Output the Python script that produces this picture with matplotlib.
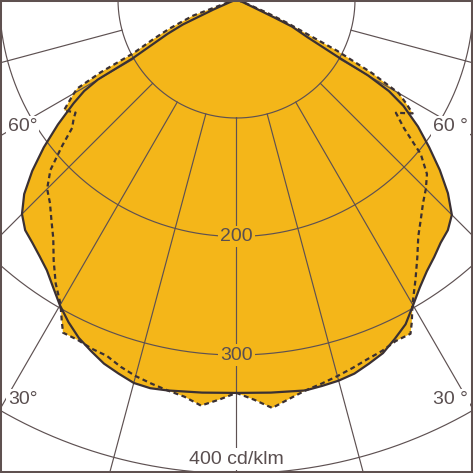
import numpy as np
import matplotlib
matplotlib.use("Agg")
import matplotlib.pyplot as plt
from matplotlib.patches import Rectangle

# ---- data (angle in degrees from nadir, intensity in cd/klm) ----
solid_deg = [-90, -68, -66.5, -65.5, -65, -63.5, -60.5, -60, -59, -57.5, -55, -52.5, -50,
             -47.5, -45, -42.5, -40, -37.5, -35, -32.5, -30, -27.5, -25, -22.5, -20, -17.5,
             -15, -12.5, -10, -5, 0, 5, 10, 12.5, 15, 17.5, 20, 22.5, 25, 27.5, 30, 32.5,
             35, 37.5, 40, 42.5, 45, 47.5, 50, 52.5, 55, 57.5, 59, 60, 60.5, 62, 64, 64.5,
             65, 67, 90]
solid_val = [0, 6, 21, 35, 50, 65, 100, 135, 150, 163, 184, 205, 225,
             243, 256, 264, 268, 273, 279, 288, 298, 307, 315, 321, 327, 331,
             335, 336, 335, 333, 332, 333, 335, 334, 333, 331, 327, 323, 316, 309, 298, 288,
             280, 274, 268, 264, 257, 242, 224, 205, 187, 167, 150, 128, 98, 68, 52, 35,
             20, 6, 0]

dashed_deg = [-90, -72, -69.6, -67.7, -66.5, -64.5, -62.5, -61.8, -60.8, -59.7, -57.3, -54.9,
              -53.9, -52, -50, -47.5, -45, -42.5, -40, -37.5, -35, -32.5, -30, -28.5, -27.5,
              -25, -22.5, -20, -17.5, -15, -12.5, -10, -7.5, -5, -2.5, 0, 2.5, 5, 7.5, 10,
              12.5, 15, 17.5, 20, 22.5, 25, 27.5, 28.5, 30, 32.5, 35, 37.5, 40, 42.5, 45,
              47.5, 50, 51, 52.5, 54.6, 57.1, 58.5, 60, 61.5, 63, 65.3, 66.5, 68, 90]
dashed_val = [0, 6, 39, 51, 62, 78, 98, 130, 154, 160, 173, 166,
              170, 176, 192, 213, 226, 233, 243, 254, 269, 284, 297, 309, 317,
              317, 319, 320, 325, 329, 332, 335, 338, 344, 338, 332, 338, 346, 340, 335,
              332, 329, 326, 323, 321, 318, 318, 310, 297, 281, 266, 252, 242, 233, 226,
              218, 203, 192, 178, 165, 177, 168, 158, 130, 95, 46, 28, 9, 0]

ring_values = [100, 200, 300, 400]
spoke_deg = [-90, -75, -60, -45, -30, -15, 0, 15, 30, 45, 60, 75, 90]

# ---- styling ----
ORANGE = "#F4B619"
CURVE = "#3a3033"
GRID = "#5e5152"
TEXT = "#5a4f50"
FONT = "Liberation Sans"

W = 473
DPI = 100
SCALE = 1.185          # pixels per cd/klm
RMAX = 470
rad_px = RMAX * SCALE
cx, cy = 236.5, W + 0.5   # pole position in pixels (from bottom-left)

fig = plt.figure(figsize=(W / DPI, W / DPI), dpi=DPI, facecolor="white")
ax = fig.add_axes([(cx - rad_px) / W, (cy - rad_px) / W, 2 * rad_px / W, 2 * rad_px / W],
                  projection="polar")
ax.set_theta_zero_location("S")
ax.set_theta_direction(1)
ax.set_axis_off()

# fill (union of both planes)
ts = np.deg2rad(solid_deg)
td = np.deg2rad(dashed_deg)
ax.fill(ts, solid_val, color=ORANGE, lw=0, zorder=1)
ax.fill(td, dashed_val, color=ORANGE, lw=0, zorder=1)

# grid rings
ring_t = np.linspace(0, 2 * np.pi, 1441)
for rv in ring_values:
    ax.plot(ring_t, np.full_like(ring_t, rv), color=GRID, lw=0.85, zorder=2)
# spokes (start at the first ring)
for sd in spoke_deg:
    a = np.deg2rad(sd)
    ax.plot([a, a], [ring_values[0], RMAX], color=GRID, lw=0.85, zorder=2)

# curves
ax.plot(ts, solid_val, color=CURVE, lw=1.6, zorder=3, solid_joinstyle="round")
ax.plot(td, dashed_val, color=CURVE, lw=1.6, zorder=3, linestyle=(0, (2.2, 1.6)))

ax.set_ylim(0, RMAX)

# labels
fs = 14
ax.text(0, 200, "200", ha="center", va="center", fontsize=fs, color=TEXT, family=FONT,
        zorder=5, bbox=dict(boxstyle="square,pad=0.12", fc=ORANGE, ec="none"))
ax.text(0, 300, "300", ha="center", va="center", fontsize=fs, color=TEXT, family=FONT,
        zorder=5, bbox=dict(boxstyle="square,pad=0.12", fc=ORANGE, ec="none"))
ax.text(0, 388, "400 cd/klm", ha="center", va="center", fontsize=fs, color=TEXT, family=FONT,
        zorder=5, bbox=dict(boxstyle="square,pad=0.12", fc="white", ec="none"))
ax.text(np.deg2rad(-59.3), 210, "60°", ha="center", va="center", fontsize=fs, color=TEXT,
        family=FONT, zorder=5, bbox=dict(boxstyle="square,pad=0.1", fc="white", ec="none"))
ax.text(np.deg2rad(59.3), 210, "60 °", ha="center", va="center", fontsize=fs, color=TEXT,
        family=FONT, zorder=5, bbox=dict(boxstyle="square,pad=0.1", fc="white", ec="none"))
ax.text(np.deg2rad(-28.1), 383, "30°", ha="center", va="center", fontsize=fs, color=TEXT,
        family=FONT, zorder=5, bbox=dict(boxstyle="square,pad=0.1", fc="white", ec="none"))
ax.text(np.deg2rad(28.1), 383, "30 °", ha="center", va="center", fontsize=fs, color=TEXT,
        family=FONT, zorder=5, bbox=dict(boxstyle="square,pad=0.1", fc="white", ec="none"))

# frame
fig.add_artist(Rectangle((0, 0), 1, 1, transform=fig.transFigure, fill=False,
                         ec="#5f5150", lw=2.9, zorder=10))

fig.savefig("out.png", dpi=DPI, facecolor="white")
